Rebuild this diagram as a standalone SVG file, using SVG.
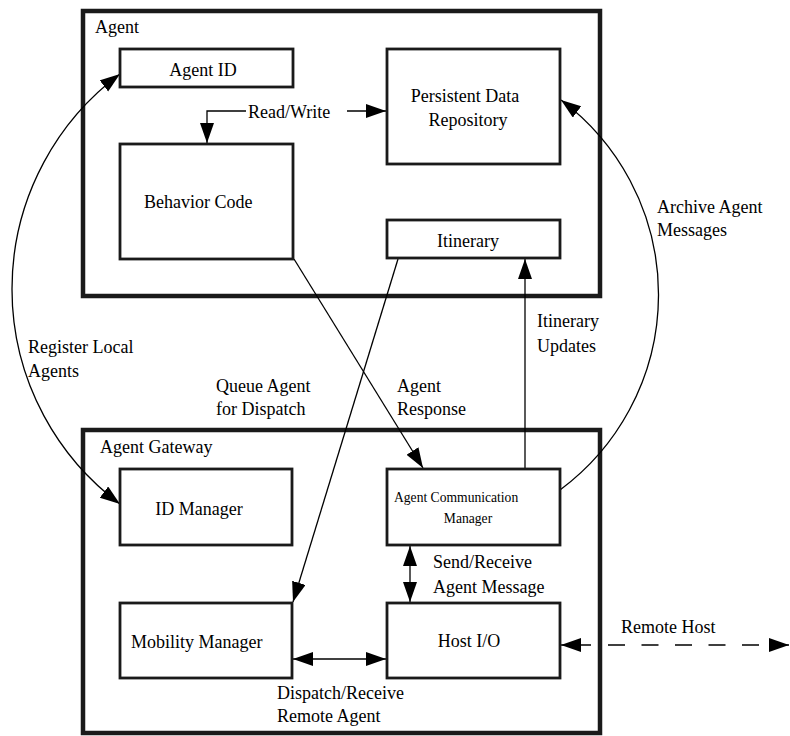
<svg xmlns="http://www.w3.org/2000/svg" width="790" height="736" viewBox="0 0 790 736">
<style>
text{font-family:"Liberation Serif","Times New Roman",serif;font-size:18px;fill:#000}
.outer{fill:none;stroke:#1a1a1a;stroke-width:4.5}
.box{fill:#fff;stroke:#1a1a1a;stroke-width:2.8}
.c{fill:none;stroke:#000;stroke-width:1.3}
.m{text-anchor:middle}
.small{font-size:13.6px}
</style>
<defs>
<marker id="ah" markerUnits="userSpaceOnUse" markerWidth="22" markerHeight="16" refX="20" refY="7" orient="auto-start-reverse" viewBox="0 0 22 16">
<path d="M0,0 L20,7 L0,14 z" fill="#000"/>
</marker>
</defs>
<rect width="790" height="736" fill="#fff"/>
<g id="agent">
<rect class="outer" x="83" y="11" width="517" height="285"/>
<text x="95" y="33">Agent</text>
</g>
<g id="agent-gateway">
<rect class="outer" x="83" y="430" width="517" height="303"/>
<text x="100" y="453">Agent Gateway</text>
</g>
<g id="connectors">
<path class="c" d="M246,111 H207 V143" marker-end="url(#ah)"/>
<text x="248" y="118">Read/Write</text>
<path class="c" d="M347,111 H386" marker-end="url(#ah)"/>
<path class="c" d="M120,74 A268,268 0 0 0 120,504" marker-start="url(#ah)" marker-end="url(#ah)"/>
<path class="c" d="M560,490 A243,243 0 0 0 561,100" marker-end="url(#ah)"/>
<path class="c" d="M294,259 L423,468" marker-end="url(#ah)"/>
<path class="c" d="M398,259 Q347,425 293,602" marker-end="url(#ah)"/>
<path class="c" d="M525,469 V259" marker-end="url(#ah)"/>
<path class="c" d="M410,546 V602" marker-start="url(#ah)" marker-end="url(#ah)"/>
<path class="c" d="M293,659 H386" marker-start="url(#ah)" marker-end="url(#ah)"/>
<path class="c" d="M561,645 H789" stroke-dasharray="30 17 17 16.5 17 16.5 17 16.5 17 16.5 17 16.5 40" marker-start="url(#ah)" marker-end="url(#ah)"/>
</g>
<g id="agent-id">
<rect class="box" x="120" y="49" width="173" height="38"/>
<text class="m" x="203" y="76">Agent ID</text>
</g>
<g id="behavior-code">
<rect class="box" x="120" y="144" width="173" height="115"/>
<text x="144" y="208">Behavior Code</text>
</g>
<g id="persistent-data-repository">
<rect class="box" x="387" y="49" width="173" height="115"/>
<text class="m" x="465" y="102">Persistent Data</text>
<text class="m" x="468" y="126">Repository</text>
</g>
<g id="itinerary">
<rect class="box" x="387" y="220" width="173" height="38"/>
<text class="m" x="468" y="247">Itinerary</text>
</g>
<g id="id-manager">
<rect class="box" x="120" y="469" width="172" height="76"/>
<text class="m" x="199" y="515">ID Manager</text>
</g>
<g id="mobility-manager">
<rect class="box" x="120" y="603" width="172" height="75"/>
<text x="131" y="648">Mobility Manager</text>
</g>
<g id="agent-communication-manager">
<rect class="box" x="387" y="469" width="173" height="76"/>
<text class="small" x="394" y="502">Agent Communication</text>
<text class="small m" x="468" y="523">Manager</text>
</g>
<g id="host-io">
<rect class="box" x="387" y="603" width="173" height="75"/>
<text class="m" x="469" y="647">Host I/O</text>
</g>
<g id="labels">
<text x="657" y="213">Archive Agent</text>
<text x="657" y="236">Messages</text>
<text x="28" y="353">Register Local</text>
<text x="28" y="377">Agents</text>
<text x="216" y="392">Queue Agent</text>
<text x="216" y="415">for Dispatch</text>
<text x="397" y="392">Agent</text>
<text x="397" y="415">Response</text>
<text x="537" y="327">Itinerary</text>
<text x="537" y="352">Updates</text>
<text x="433" y="568">Send/Receive</text>
<text x="433" y="593">Agent Message</text>
<text x="277" y="699">Dispatch/Receive</text>
<text x="277" y="722">Remote Agent</text>
<text x="621" y="633">Remote Host</text>
</g>
</svg>
